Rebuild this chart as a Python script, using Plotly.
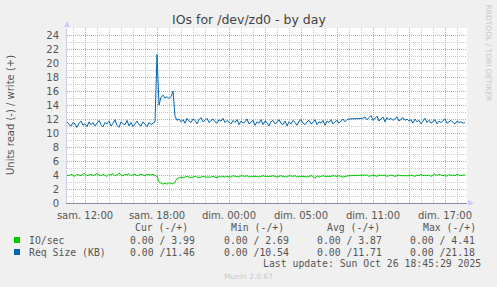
import plotly.graph_objects as go

# ---- data (5-min rrd samples shown every 10 min; hours since 10:30 Sat) ----
step_h = 1 / 6
req_size = [
    11.6, 11.2, 11.0, 11.5, 11.3, 10.8, 11.4, 11.7, 11.1, 11.3, 10.9, 11.6, 11.2, 11.5, 11.0,
    11.4, 11.8, 11.2, 10.9, 11.5, 11.3, 11.7, 11.0, 11.4, 11.9, 11.1, 10.8, 11.6, 11.3, 11.2,
    11.8, 11.0, 11.5, 10.9, 11.4, 11.7, 11.2, 11.0, 11.6, 11.3, 10.9, 11.5, 11.2, 11.4, 11.6,
    21.2,
    14.0, 15.1, 15.4, 15.0, 15.2, 14.9, 15.2, 16.0, 12.4,
    11.8, 12.0, 11.6, 11.9, 11.4, 12.1, 11.7, 11.5, 12.0, 11.8, 11.3, 11.9, 12.2, 11.6, 11.8,
    12.1, 11.5, 11.7, 12.0, 11.6, 11.4, 11.9, 11.7, 12.1, 11.5, 11.8,
    11.6, 11.3, 11.8, 11.5, 11.9, 11.2, 11.7, 11.4, 11.6, 12.0, 11.3, 11.5, 11.8, 11.1, 11.6,
    11.4, 11.9, 11.2, 11.7, 11.5, 11.0, 11.6, 11.8, 11.3, 11.5, 11.9, 11.4, 11.2, 11.7, 11.0,
    11.6, 11.3, 11.8, 11.5, 11.1, 11.7, 11.9, 11.4, 11.2, 11.6, 11.8, 11.3, 11.5, 11.9, 11.2,
    11.6, 11.4, 11.8, 11.1, 11.7, 11.5, 11.9, 11.3, 11.6, 11.8, 11.4, 11.7, 12.0, 11.6, 11.9,
    12.0, 12.0, 12.0, 12.0, 12.0, 12.0, 12.0, 12.1,
    12.3, 11.9, 12.2, 12.5, 11.8, 12.1, 12.4, 11.7, 12.0, 12.3, 11.6, 12.2, 11.9, 12.1, 11.8,
    12.0, 12.3, 11.7, 11.9, 12.2, 11.8, 12.0,
    11.7, 11.9, 11.4, 12.0, 11.6, 11.8, 11.3, 11.7, 12.1, 11.5, 11.8, 11.4, 11.6, 11.9, 11.3,
    11.7, 11.5, 11.8, 12.0, 11.4, 11.6, 11.8, 11.5, 11.3, 11.7, 11.5, 11.6, 11.4, 11.5,
]
io_sec = [
    4.0, 3.9, 4.1, 4.0, 3.8, 4.1, 4.0, 3.9, 4.1, 4.2, 3.9, 4.0, 4.1, 3.9, 4.0,
    4.2, 4.0, 3.9, 4.1, 4.0, 3.8, 4.1, 4.0, 4.2, 3.9, 4.0, 4.3, 4.0, 3.9, 4.1,
    4.0, 4.2, 3.9, 4.0, 4.1, 3.9, 4.0, 4.1, 4.0, 3.9, 4.1, 4.0, 4.0, 4.1, 4.0,
    3.8, 3.0, 2.8, 2.7, 2.8, 2.7, 2.9, 2.8, 2.7, 3.0,
    3.5, 3.6, 3.7, 3.6, 3.7, 3.8, 3.7, 3.6, 3.7, 3.8, 3.7, 3.6, 3.7, 3.8, 3.7,
    3.7, 3.6, 3.7, 3.8, 3.7, 3.6, 3.8, 3.7, 3.8, 3.7, 3.8,
    3.8, 3.7, 3.9, 3.8, 3.8, 3.7, 3.9, 3.8, 3.8, 3.9, 3.7, 3.8, 3.8, 3.9, 3.8,
    3.7, 3.8, 3.9, 3.8, 3.8, 3.7, 3.8, 3.9, 3.8, 3.7, 3.8, 3.9, 3.8, 3.8, 3.7,
    3.9, 3.8, 3.8, 3.9, 3.7, 3.8, 3.8, 3.9, 3.8, 3.7, 3.8, 3.9, 3.8, 3.5, 3.9,
    3.7, 3.8, 3.9, 3.8, 3.8, 3.7, 3.8, 3.9, 3.8, 3.8, 3.9, 3.8, 3.7, 3.8, 3.9,
    3.9, 3.9, 3.9, 3.9, 3.9, 3.9, 3.9, 3.9,
    3.9, 4.0, 3.8, 3.9, 4.0, 3.9, 3.8, 4.0, 3.9, 3.9, 4.0, 3.8, 3.9, 4.0, 3.9,
    3.8, 3.9, 4.0, 3.9, 3.9, 3.8, 3.9,
    3.9, 4.0, 3.9, 3.8, 4.0, 3.9, 4.1, 3.9, 4.0, 3.9, 4.0, 3.8, 4.0, 4.2, 3.9,
    4.1, 4.0, 3.9, 4.0, 3.8, 4.1, 3.9, 4.0, 3.9, 4.1, 4.0, 3.9, 4.0, 4.0,
]
hours = [i * step_h for i in range(len(req_size))]

x_tickvals = [1.5, 7.5, 13.5, 16.5, 19.5, 22.5, 25.5, 28.5, 31.5]
x_ticktext = ["sam. 12:00", "sam. 18:00", "dim. 00:00", "", "dim. 05:00", "",
              "dim. 11:00", "", "dim. 17:00"]
y_tickvals = list(range(0, 25, 2))

legend_names = ["IO/sec", "Req Size (KB)"]
legend_colors = ["#00CC00", "#0066B3"]
col_headers = ["Cur (-/+)", "Min (-/+)", "Avg (-/+)", "Max (-/+)"]
legend_values = [
    ["0.00 / 3.99", "0.00 / 2.69", "0.00 / 3.87", "0.00 / 4.41"],
    ["0.00 /11.46", "0.00 /10.54", "0.00 /11.71", "0.00 /21.18"],
]

# ---- layout helpers (pixel -> paper) ----
W, H = 497, 287
L, R, T, B = 67, 30, 28, 84
PW, PH = W - L - R, H - T - B


def px(x):
    return (x - L) / PW


def py(y):
    return (T + PH - y) / PH


fig = go.Figure()
fig.add_trace(go.Scatter(x=hours, y=io_sec, mode="lines",
                         line=dict(color=legend_colors[0], width=1), hoverinfo="skip"))
fig.add_trace(go.Scatter(x=hours, y=req_size, mode="lines",
                         line=dict(color=legend_colors[1], width=1), hoverinfo="skip"))

font = "DejaVu Sans"
mono = "DejaVu Sans Mono"
red_grid = "rgba(230,140,140,0.75)"
gray_grid = "rgba(190,190,190,0.8)"

fig.update_layout(
    width=W, height=H,
    margin=dict(l=L, r=R, t=T, b=B),
    paper_bgcolor="#F0F0F0", plot_bgcolor="#FFFFFF",
    showlegend=False,
    xaxis=dict(range=[0, PW / 12], tickvals=x_tickvals, ticktext=x_ticktext,
               showgrid=True, gridcolor=red_grid, griddash="1px,1px", gridwidth=1,
               minor=dict(tick0=0.5, dtick=1, showgrid=True, gridcolor=gray_grid,
                          griddash="1px,1px", gridwidth=1),
               showline=True, linecolor="#8c8ca0", linewidth=1,
               zeroline=False, ticks="", ticklabelstandoff=3,
               tickfont=dict(family=font, size=10, color="#555555"), fixedrange=True),
    yaxis=dict(range=[0, 25], tickvals=y_tickvals,
               showgrid=True, gridcolor=red_grid, griddash="1px,1px", gridwidth=1,
               minor=dict(tick0=0, dtick=1, showgrid=True, gridcolor=gray_grid,
                          griddash="1px,1px", gridwidth=1),
               showline=True, linecolor="#ccccee", linewidth=1,
               zeroline=False, ticks="", ticklabelstandoff=5,
               tickfont=dict(family=font, size=10, color="#555555"), fixedrange=True),
)

ann = []
ann.append(dict(text="IOs for /dev/zd0 - by day", x=px(248.5), y=py(19), xref="paper", yref="paper",
                xanchor="center", yanchor="middle", showarrow=False,
                font=dict(family=font, size=12.5, color="#444444")))
ann.append(dict(text="Units read (-) / write (+)", x=px(10.5), y=py(115.5), xref="paper", yref="paper",
                xanchor="center", yanchor="middle", showarrow=False, textangle=-90,
                font=dict(family=font, size=10, color="#555555")))
ann.append(dict(text="RRDTOOL / TOBI OETIKER", x=px(488.5), y=py(53), xref="paper", yref="paper",
                xanchor="center", yanchor="middle", showarrow=False, textangle=90,
                font=dict(family=font, size=7.5, color="#c8c8c8")))

header_cx = [161, 257.5, 353.3, 449.3]
value_right = [196.7, 290.7, 384, 477.3]
for cx, h in zip(header_cx, col_headers):
    ann.append(dict(text=h, x=px(cx), y=py(227), xref="paper", yref="paper",
                    xanchor="center", yanchor="middle", showarrow=False,
                    font=dict(family=mono, size=9.8, color="#555555")))
row_y = [240, 252]
shapes = []
for r, (name, col, vals) in enumerate(zip(legend_names, legend_colors, legend_values)):
    ann.append(dict(text=name, x=px(27), y=py(row_y[r]), xref="paper", yref="paper",
                    xanchor="left", yanchor="middle", showarrow=False,
                    font=dict(family=mono, size=9.8, color="#555555")))
    for xr, v in zip(value_right, vals):
        ann.append(dict(text=v, x=px(xr), y=py(row_y[r]), xref="paper", yref="paper",
                        xanchor="right", yanchor="middle", showarrow=False,
                        font=dict(family=mono, size=9.8, color="#555555")))
    shapes.append(dict(type="rect", xref="paper", yref="paper",
                       x0=px(14), x1=px(20), y0=py(row_y[r] - 3), y1=py(row_y[r] + 3),
                       fillcolor=col, line=dict(width=0)))

ann.append(dict(text="Last update: Sun Oct 26 18:45:29 2025", x=px(483), y=py(263.5),
                xref="paper", yref="paper", xanchor="right", yanchor="middle", showarrow=False,
                font=dict(family=mono, size=9.8, color="#555555")))
ann.append(dict(text="Munin 2.0.67", x=px(248), y=py(276), xref="paper", yref="paper",
                xanchor="center", yanchor="middle", showarrow=False,
                font=dict(family=font, size=7.5, color="#c8c8c8")))

# axis arrows
shapes.append(dict(type="path", xref="paper", yref="paper", line=dict(width=0),
                   fillcolor="#ccccff",
                   path=f"M {px(64)} {py(27)} L {px(70)} {py(27)} L {px(67)} {py(21)} Z"))
shapes.append(dict(type="path", xref="paper", yref="paper", line=dict(width=0),
                   fillcolor="#ccccff",
                   path=f"M {px(468)} {py(200)} L {px(468)} {py(206)} L {px(474)} {py(203)} Z"))

fig.update_layout(annotations=ann, shapes=shapes)
fig.write_html("out.html")
